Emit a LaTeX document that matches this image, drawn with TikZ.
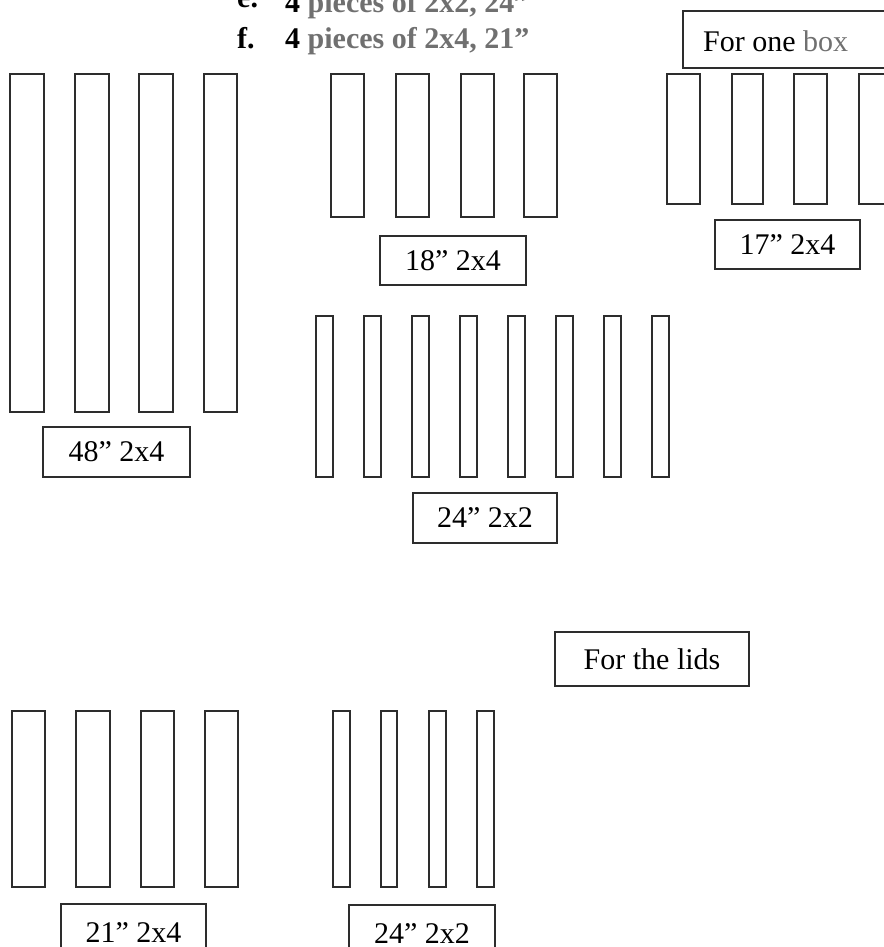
\documentclass[tikz,border=0pt]{standalone}
\usepackage{fontspec}
\setmainfont{Liberation Serif}
\definecolor{inkgray}{RGB}{112,112,112}
\definecolor{pen}{RGB}{45,45,45}
\tikzset{
  board/.style={draw=pen, line width=1.4pt},
  headline/.style={anchor=base west, inner sep=0pt, font=\fontsize{30}{36}\selectfont\bfseries}
}
\begin{document}
\begin{tikzpicture}[x=1pt,y=-1pt, font=\fontsize{30}{36}\selectfont]
\useasboundingbox (0,0) rectangle (883,947);
% heading, cut at the top
\node[headline] (itemE) at (237,8) {e.};
\node[headline] (listE) at (285,13) {4 \textcolor{inkgray}{pieces of 2x2, 24”}};
\node[headline] (itemF) at (237,49) {f.};
\node[headline] (listF) at (285,49) {4 \textcolor{inkgray}{pieces of 2x4, 21”}};
% for one box
\draw[board] (683,11) rectangle (905,68);
\node[anchor=base west, inner sep=0pt] (onebox) at (703,52) {For one \textcolor{inkgray}{box}};
\draw[board] (10,74) rectangle (44,412) (75,74) rectangle (109,412)
  (139,74) rectangle (173,412) (204,74) rectangle (237,412);
\draw[board] (43,427) rectangle (190,477) node[midway] (tag48) {48” 2x4};
\draw[board] (331,74) rectangle (364,217) (396,74) rectangle (429,217)
  (461,74) rectangle (494,217) (524,74) rectangle (557,217);
\draw[board] (380,236) rectangle (526,285) node[midway] (tag18) {18” 2x4};
\draw[board] (667,74) rectangle (700,204) (732,74) rectangle (763,204)
  (794,74) rectangle (827,204) (859,74) rectangle (892,204);
\draw[board] (715,220) rectangle (860,269) node[midway] (tag17) {17” 2x4};
\draw[board] (316,316) rectangle (333,477) (364,316) rectangle (381,477)
  (412,316) rectangle (429,477) (460,316) rectangle (477,477)
  (508,316) rectangle (525,477) (556,316) rectangle (573,477)
  (604,316) rectangle (621,477) (652,316) rectangle (669,477);
\draw[board] (413,493) rectangle (557,543) node[midway] (tag24) {24” 2x2};
% for the lids
\draw[board] (555,632) rectangle (749,686) node[midway] (lids) {For the lids};
\draw[board] (12,711) rectangle (45,887) (76,711) rectangle (110,887)
  (141,711) rectangle (174,887) (205,711) rectangle (238,887);
\draw[board] (61,904) rectangle (206,962) node[midway] (tag21) {21” 2x4};
\draw[board] (333,711) rectangle (350,887) (381,711) rectangle (397,887)
  (429,711) rectangle (446,887) (477,711) rectangle (494,887);
\draw[board] (349,905) rectangle (495,962) node[midway] (tagLid) {24” 2x2};
\end{tikzpicture}
\end{document}
